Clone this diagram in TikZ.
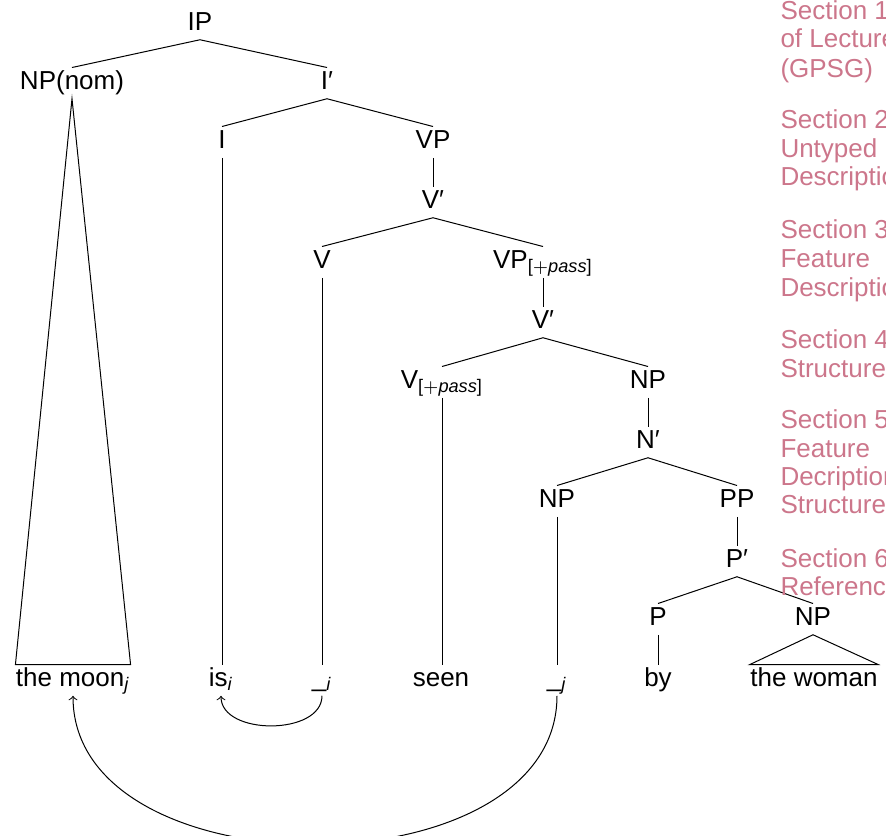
\documentclass[tikz,border=0pt]{standalone}
\usepackage{fontspec}
\setmainfont{Liberation Sans}
\definecolor{navred}{RGB}{204,118,139}
\newcommand{\passfeat}{\textsubscript{[$+$\textit{pass}]}}
\begin{document}
\begin{tikzpicture}[x=0.4pt,y=-0.4pt,
  every node/.style={font=\fontsize{10.4pt}{12pt}\selectfont},
  cat/.style={anchor=base,inner xsep=0pt,inner ysep=1.2pt,
              text height=0.72em,text depth=0.25em},
  branch/.style={line width=0.4pt},
  move/.style={line width=0.4pt,->},
  navitem/.style={anchor=base west,inner sep=0pt,text=navred}]
\useasboundingbox (0,0) rectangle (886,835);
\clip (0,0) rectangle (886,835);

% phrase structure
\node[cat] (ip)    at (200,30)  {IP};
\node[cat] (npnom) at (72,89)   {NP(nom)};
\node[cat] (ibar)  at (327,89)  {I′};
\node[cat] (i)     at (222,148) {I};
\node[cat] (vp)    at (433,148) {VP};
\node[cat] (vbara) at (433,208) {V′};
\node[cat] (v)     at (322,268) {V};
\node[cat] (vpp)   at (543,268) {VP\passfeat};
\node[cat] (vbarb) at (543,328) {V′};
\node[cat] (vpass) at (442,388) {V\passfeat};
\node[cat] (npa)   at (648,388) {NP};
\node[cat] (nbar)  at (648,448) {N′};
\node[cat] (npb)   at (557,507) {NP};
\node[cat] (pp)    at (737,507) {PP};
\node[cat] (pbar)  at (737,567) {P′};
\node[cat] (p)     at (658,625) {P};
\node[cat] (npc)   at (813,625) {NP};

% terminal string
\node[cat] (moon)  at (73,686)  {the moon\textsubscript{\textit{j}}};
\node[cat] (is)    at (221,686) {is\textsubscript{\textit{i}}};
\node[cat] (gapi)  at (322,686) {\_\textsubscript{\textit{i}}};
\node[cat] (seen)  at (441,686) {seen};
\node[cat] (gapj)  at (557,686) {\_\textsubscript{\textit{j}}};
\node[cat] (by)    at (658,686) {by};
\node[cat] (woman) at (814,686) {the woman};

% branches
\draw[branch] (npnom.north) -- (ip.south) -- (ibar.north);
\draw[branch] (i.north) -- (ibar.south) -- (vp.north);
\draw[branch] (vp.south) -- (vbara.north);
\draw[branch] (v.north) -- (vbara.south) -- (vpp.north);
\draw[branch] (vpp.south) -- (vbarb.north);
\draw[branch] (vpass.north) -- (vbarb.south) -- (npa.north);
\draw[branch] (npa.south) -- (nbar.north);
\draw[branch] (npb.north) -- (nbar.south) -- (pp.north);
\draw[branch] (pp.south) -- (pbar.north);
\draw[branch] (p.north) -- (pbar.south) -- (npc.north);

% lines down to the words
\draw[branch] (i.south) -- (i.south |- is.north);
\draw[branch] (v.south) -- (v.south |- gapi.north);
\draw[branch] (vpass.south) -- (vpass.south |- seen.north);
\draw[branch] (npb.south) -- (npb.south |- gapj.north);
\draw[branch] (p.south) -- (p.south |- by.north);
\draw[branch] (npnom.south) -- (moon.north west) -- (moon.north east) -- cycle;
\draw[branch] (npc.south) -- (woman.north west) -- (woman.north east) -- cycle;

% movement arrows
\draw[move] (gapi.south) .. controls +(0,40) and +(0,40) .. (is.south);
\draw[move] (gapj.south) .. controls +(0,198) and +(0,198) .. (moon.south);

% section navigation
\node[navitem] (s1a) at (780,19)  {Section 1};
\node[navitem] (s1b) at (780,47)  {of Lecture};
\node[navitem] (s1c) at (780,77)  {(GPSG)};
\node[navitem] (s2a) at (780,128) {Section 2};
\node[navitem] (s2b) at (780,157) {Untyped};
\node[navitem] (s2c) at (780,185) {Description};
\node[navitem] (s3a) at (780,238) {Section 3};
\node[navitem] (s3b) at (780,267) {Feature};
\node[navitem] (s3c) at (780,296) {Description};
\node[navitem] (s4a) at (780,348) {Section 4};
\node[navitem] (s4b) at (780,377) {Structure};
\node[navitem] (s5a) at (780,428) {Section 5};
\node[navitem] (s5b) at (780,457) {Feature};
\node[navitem] (s5c) at (780,485) {Decription};
\node[navitem] (s5d) at (780,513) {Structure};
\node[navitem] (s6a) at (780,567) {Section 6};
\node[navitem] (s6b) at (780,595) {References};
\end{tikzpicture}
\end{document}
